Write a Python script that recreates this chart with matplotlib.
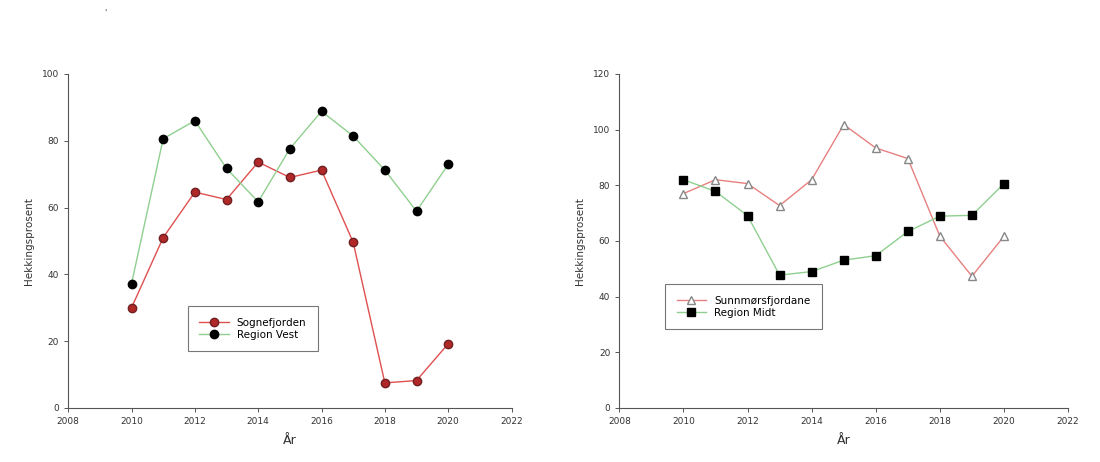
import matplotlib
matplotlib.use("Agg")
import matplotlib.pyplot as plt

years = [2010, 2011, 2012, 2013, 2014, 2015, 2016, 2017, 2018, 2019, 2020]

# left panel
sognefjorden = [30, 51, 64.6, 62.4, 73.6, 69, 71.2, 49.6, 7.5, 8.2, 19.2]
region_vest = [37.2, 80.6, 86, 71.7, 61.7, 77.6, 88.8, 81.4, 71.2, 58.9, 72.9]

# right panel
sunnmore = [77, 82, 80.6, 72.7, 82, 101.8, 93.4, 89.6, 61.7, 47.3, 61.7]
region_midt = [82, 77.8, 69.1, 47.7, 49, 53.1, 54.7, 63.4, 68.9, 69.2, 80.6]

xticks = [2008, 2010, 2012, 2014, 2016, 2018, 2020, 2022]

fig = plt.figure(figsize=(11, 4.62), dpi=100)
fig.patch.set_facecolor("white")

ax1 = fig.add_axes([0.062, 0.117, 0.403, 0.723])
ax2 = fig.add_axes([0.563, 0.117, 0.408, 0.723])


def style(ax, ymax, ystep):
    for s in ["top", "right"]:
        ax.spines[s].set_visible(False)
    for s in ["left", "bottom"]:
        ax.spines[s].set_color("#555555")
        ax.spines[s].set_linewidth(0.8)
    ax.set_xlim(2008, 2022)
    ax.set_ylim(0, ymax)
    ax.set_xticks(xticks)
    ax.set_yticks(range(0, ymax + 1, ystep))
    ax.tick_params(labelsize=6.5, length=3, width=0.7, color="#555555",
                   labelcolor="#333333", direction="out")
    ax.set_xlabel("År", fontsize=9, color="#333333", labelpad=6)


ax1.plot(years, sognefjorden, color="#e05050", linewidth=1, marker="o",
         markersize=6, markerfacecolor="#b02828", markeredgecolor="#702020",
         label="Sognefjorden", zorder=3)
ax1.plot(years, region_vest, color="#8fcf8f", linewidth=1, marker="o",
         markersize=6, markerfacecolor="black", markeredgecolor="black",
         label="Region Vest", zorder=3)
style(ax1, 100, 20)
ax1.set_ylabel("Hekkingsprosent", fontsize=7.5, color="#333333", labelpad=6)
leg1 = ax1.legend(loc="upper left", bbox_to_anchor=(0.27, 0.305), fontsize=7.5,
                  frameon=True, fancybox=False, edgecolor="#555555",
                  handlelength=2.8, borderpad=1.1, labelspacing=0.2,
                  borderaxespad=0)
leg1.get_frame().set_linewidth(0.8)

ax2.plot(years, sunnmore, color="#e88080", linewidth=1, marker="^",
         markersize=6, markerfacecolor="white", markeredgecolor="#888888",
         label="Sunnmørsfjordane", zorder=3)
ax2.plot(years, region_midt, color="#8fcf8f", linewidth=1, marker="s",
         markersize=6, markerfacecolor="black", markeredgecolor="black",
         label="Region Midt", zorder=3)
style(ax2, 120, 20)
ax2.set_ylabel("Hekkingsprosent", fontsize=7.5, color="#333333", labelpad=6)
leg2 = ax2.legend(loc="upper left", bbox_to_anchor=(0.102, 0.37), fontsize=7.5,
                  frameon=True, fancybox=False, edgecolor="#555555",
                  handlelength=2.8, borderpad=1.1, labelspacing=0.2,
                  borderaxespad=0)
leg2.get_frame().set_linewidth(0.8)

fig.text(0.095, 0.965, "'", fontsize=6, color="#444444")

plt.savefig("out.png", dpi=100)
plt.close()
